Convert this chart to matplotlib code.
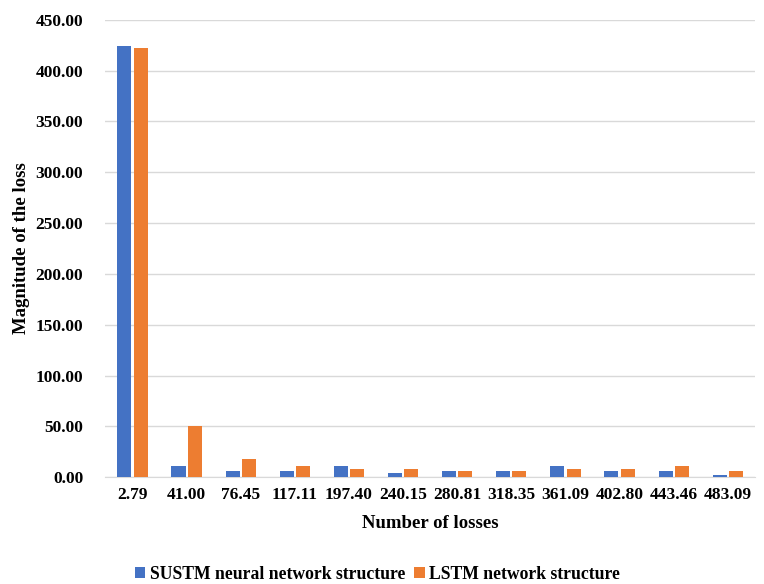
import numpy as np
import matplotlib
matplotlib.use("Agg")
from matplotlib import pyplot as plt

plt.rcParams['font.family'] = ['Liberation Serif', 'DejaVu Serif']
plt.rcParams['font.weight'] = 'bold'

categories = ['2.79', '41.00', '76.45', '117.11', '197.40', '240.15',
              '280.81', '318.35', '361.09', '402.80', '443.46', '483.09']
sustm = [424, 10.5, 6.2, 6, 10.5, 4.5, 6, 6, 10.5, 6, 6, 2]
lstm = [422, 50, 18, 10.5, 8, 8, 6, 6, 8, 8, 10.5, 6]

fig = plt.figure(figsize=(7.64, 5.84), dpi=100)
ax = fig.add_axes([0.138, 0.183, 0.850, 0.783])

x = np.arange(len(categories))
w = 0.26
ax.bar(x - w / 2 - 0.02, sustm, width=w, color='#4472C4', label='SUSTM neural network structure', zorder=3)
ax.bar(x + w / 2 + 0.02, lstm, width=w, color='#ED7D31', label='LSTM network structure', zorder=3)

ax.set_ylim(0, 450)
ax.set_yticks(np.arange(0, 451, 50))
ax.set_yticklabels(['%.2f' % v for v in np.arange(0, 451, 50)], fontsize=12.5, fontweight='bold')
ax.set_xticks(x)
ax.set_xticklabels(categories, fontsize=12.5, fontweight='bold')
ax.set_xlim(-0.5, len(categories) - 0.5)
ax.grid(axis='y', color='#D9D9D9', linewidth=1, zorder=0)
for s in ['top', 'right', 'left']:
    ax.spines[s].set_visible(False)
ax.spines['bottom'].set_color('#D9D9D9')
ax.tick_params(axis='y', length=0, pad=16)
ax.tick_params(axis='x', length=0, pad=7)

ax.set_xlabel('Number of losses', fontsize=13.5, fontweight='bold', labelpad=9)
ax.set_ylabel('Magnitude of the loss', fontsize=13.5, fontweight='bold', labelpad=4)

fig.legend(loc='lower center', bbox_to_anchor=(0.494, -0.025), ncol=2, frameon=False,
           prop={'size': 12.7, 'weight': 'bold'}, handlelength=0.6, handleheight=0.6,
           handletextpad=0.25, columnspacing=0.5)

fig.savefig('out.png', dpi=100)
